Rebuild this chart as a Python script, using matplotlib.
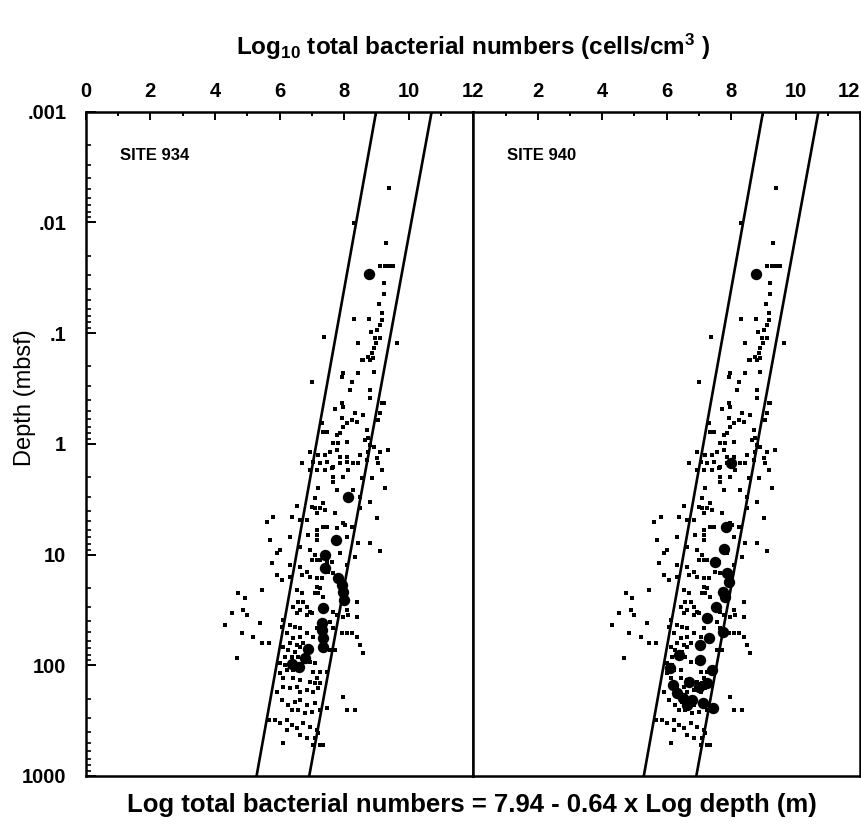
import numpy as np
import matplotlib
matplotlib.use('Agg')
import matplotlib.pyplot as plt
from matplotlib.ticker import FixedLocator, LogLocator, NullFormatter

plt.rcParams['font.family'] = ['Liberation Sans Narrow', 'Liberation Sans', 'DejaVu Sans']
plt.rcParams['font.weight'] = 'bold'
plt.rcParams['mathtext.fontset'] = 'custom'
plt.rcParams['mathtext.rm'] = 'Liberation Sans:bold'
plt.rcParams['mathtext.it'] = 'Liberation Sans:bold'

# background data (all sites), log10 cells/cm3 vs log10 depth (m) - same in both panels
bg_cells = [
    9.40, 9.30, 8.31, 9.11, 9.27, 9.40, 9.52, 9.22, 9.22, 9.09, 9.16, 9.16, 9.11, 8.31, 8.77,
    8.83, 9.03, 8.96, 9.11, 8.98, 8.44, 9.63, 7.39, 8.91, 8.85, 8.80, 8.89, 8.54, 8.60, 8.75,
    8.91, 7.98, 7.93, 8.44,
    7.00, 8.24, 8.18, 8.80, 8.80, 9.16, 9.22, 7.93, 7.98, 7.72, 8.34, 8.60, 9.11,
    7.93, 8.24, 8.39, 8.08, 7.98, 7.31, 7.36, 7.46, 7.87, 7.77, 8.70, 8.75, 8.65, 9.06, 7.67,
    7.82, 8.08, 8.80, 8.91,
    6.95, 7.20, 7.41, 7.57, 7.77, 7.87, 8.08, 8.49, 8.75, 9.11, 9.37, 9.01, 6.69, 7.05, 7.26,
    7.46, 7.62, 7.67, 7.87, 8.08, 8.29, 8.44, 8.70, 9.06, 6.95, 7.15, 7.41, 8.13, 9.16, 7.67,
    7.98, 8.55, 8.86,
    7.67, 7.20, 7.77, 8.29, 9.27, 7.10, 8.49, 7.36, 6.53, 7.00, 7.10, 7.26, 7.41, 7.15, 8.49,
    8.80,
    6.38, 5.81, 5.60, 6.64, 6.84, 7.72, 9.01, 7.98, 8.03, 7.36, 7.46, 7.15, 7.77, 6.33, 5.71,
    6.89, 7.15, 7.15, 8.24, 8.44, 8.08, 8.80, 9.11, 6.64,
    6.02, 5.91, 6.95, 7.10, 7.00, 7.15, 7.26, 7.46, 7.62, 7.87, 8.34, 8.08, 5.76, 6.33, 6.64,
    6.84, 6.69, 5.91, 6.07, 6.33, 6.95, 7.15, 7.31, 7.51, 7.67,
    5.45, 4.73, 4.93, 4.88, 7.15, 7.26, 7.20, 7.10, 7.36, 6.53, 6.69, 6.74, 6.58, 6.43, 6.64,
    6.84, 6.95, 8.39, 8.08, 4.52, 4.99, 5.40, 4.31, 4.83, 5.19, 5.45, 5.66, 6.53, 6.84, 7.00,
    7.67, 7.77, 7.98, 8.13, 8.39,
    6.12, 6.33, 6.48, 6.64, 6.22, 6.43, 6.64, 6.84, 7.05, 7.15, 7.57, 7.67, 7.93, 8.08, 8.24,
    8.39, 8.49, 6.33, 6.53, 6.74, 6.12, 6.27, 6.48, 6.64, 7.57, 7.72, 6.07,
    4.68, 8.60, 6.17, 6.38, 6.58, 6.02, 6.17, 6.22, 6.43, 6.74, 6.95, 7.10, 7.26, 7.05, 7.46,
    7.15, 6.02, 6.12, 6.43, 6.64, 6.95, 7.10, 7.26,
    5.91, 6.12, 6.33, 6.53, 6.64, 6.84, 7.05, 7.20, 6.07, 6.27, 6.48, 6.64, 6.84, 7.10, 6.38,
    6.58, 6.79, 7.00, 7.26, 7.98, 8.08, 8.34, 7.46,
    5.86, 6.02, 6.22, 6.38, 6.53, 6.74, 6.95, 7.15, 6.22, 6.64, 6.84, 7.10, 7.20, 6.12, 7.05,
    7.26, 7.36, 5.66,
]
bg_logdepth = [
    -2.308, -1.817, -1.992, -1.610, -1.610, -1.610, -1.610, -1.450, -1.354, -1.260, -1.185,
    -1.119, -1.074, -1.125, -1.125, -1.007, -1.028, -0.953, -0.953, -0.908, -0.908, -0.908,
    -0.968, -0.863, -0.818, -0.757, -0.773, -0.757, -0.757, -0.788, -0.652, -0.637, -0.607,
    -0.637,
    -0.561, -0.561, -0.486, -0.486, -0.410, -0.365, -0.365, -0.365, -0.335, -0.311, -0.275,
    -0.260, -0.275,
    -0.230, -0.215, -0.200, -0.185, -0.155, -0.185, -0.109, -0.109, -0.094, -0.079, -0.124,
    -0.049, -0.034, -0.215, -0.004, -0.004, -0.019, 0.011, 0.026,
    0.071, 0.101, 0.101, 0.071, 0.056, 0.117, 0.117, 0.101, 0.071, 0.071, 0.056, 0.132, 0.177,
    0.162, 0.177, 0.162, 0.222, 0.207, 0.177, 0.162, 0.177, 0.177, 0.147, 0.177, 0.237, 0.237,
    0.237, 0.237, 0.237, 0.297, 0.297, 0.312, 0.312,
    0.342, 0.403, 0.418, 0.418, 0.403, 0.493, 0.478, 0.538, 0.562, 0.568, 0.583, 0.583, 0.598,
    0.628, 0.583, 0.523,
    0.659, 0.659, 0.704, 0.689, 0.689, 0.628, 0.674, 0.719, 0.734, 0.749, 0.749, 0.779, 0.764,
    0.839, 0.869, 0.824, 0.824, 0.869, 0.749, 0.899, 0.839, 0.899, 0.966, 0.930,
    0.960, 0.990, 0.960, 1.005, 1.050, 1.050, 1.050, 1.065, 1.065, 0.990, 1.020, 1.095, 1.080,
    1.095, 1.110, 1.155, 1.185, 1.185, 1.231, 1.200, 1.200, 1.216, 1.216, 1.155, 1.170,
    1.321, 1.351, 1.396, 1.502, 1.291, 1.306, 1.351, 1.351, 1.381, 1.321, 1.351, 1.426, 1.426,
    1.471, 1.502, 1.471, 1.517, 1.426, 1.502, 1.532, 1.547, 1.622, 1.637, 1.712, 1.742, 1.803,
    1.803, 1.532, 1.547, 1.532, 1.517, 1.547, 1.562, 1.547, 1.562,
    1.592, 1.637, 1.652, 1.667, 1.712, 1.757, 1.742, 1.712, 1.742, 1.667, 1.607, 1.667, 1.712,
    1.712, 1.712, 1.742, 1.818, 1.803, 1.818, 1.803, 1.833, 1.863, 1.878, 1.833, 1.863, 1.863,
    1.652,
    1.938, 1.893, 1.923, 1.923, 1.923, 1.983, 1.998, 2.044, 2.044, 1.968, 1.968, 1.983, 2.059,
    2.059, 2.059, 2.119, 2.074, 2.119, 2.119, 2.134, 2.149, 2.164, 2.164,
    2.239, 2.194, 2.209, 2.194, 2.239, 2.224, 2.239, 2.209, 2.315, 2.360, 2.330, 2.315, 2.360,
    2.345, 2.405, 2.405, 2.435, 2.420, 2.405, 2.284, 2.405, 2.405, 2.390,
    2.495, 2.525, 2.495, 2.540, 2.570, 2.525, 2.555, 2.586, 2.586, 2.631, 2.661, 2.661, 2.616,
    2.706, 2.721, 2.721, 2.721, 2.495,
]

# site 934
s934_cells = [8.77, 8.13, 7.74, 7.41, 7.41, 7.80, 7.93, 7.96, 8.00, 7.36, 7.31, 7.31, 7.34,
              7.36, 6.89, 6.79, 6.61, 6.38]
s934_logdepth = [-1.534, 0.483, 0.869, 1.002, 1.119, 1.215, 1.276, 1.336, 1.411, 1.486,
                 1.622, 1.682, 1.757, 1.833, 1.857, 1.938, 2.014, 1.989]

# site 940
s940_cells = [8.78, 7.99, 7.85, 7.79, 7.51, 7.87, 7.92, 7.76, 7.82, 7.54, 7.25, 7.74, 7.30,
              7.04, 6.37, 7.04, 6.11, 7.40, 6.19, 6.68, 6.99, 7.25, 6.32, 6.52, 6.78, 7.14,
              7.45, 6.63]
s940_logdepth = [-1.534, 0.171, 0.749, 0.948, 1.065, 1.170, 1.246, 1.336, 1.381, 1.472,
                 1.577, 1.697, 1.757, 1.818, 1.908, 1.953, 2.028, 2.043, 2.179, 2.149, 2.194,
                 2.164, 2.254, 2.299, 2.315, 2.344, 2.389, 2.360]

# prediction bounds, values at depth 0.001 and 1000 m
bound_depth = [0.001, 1000]
lower_bound = [8.99, 5.29]
upper_bound = [10.71, 6.92]

ytick_vals = [0.001, 0.01, 0.1, 1, 10, 100, 1000]
ytick_labels = ['.001', '.01', '.1', '1', '10', '100', '1000']

fig = plt.figure(figsize=(8.62, 8.4), dpi=100)
ax1 = fig.add_axes([0.0994, 0.0762, 0.4497, 0.7908])
ax2 = fig.add_axes([0.5491, 0.0762, 0.4486, 0.7908])

panels = [(ax1, s934_cells, s934_logdepth, 'SITE 934'),
          (ax2, s940_cells, s940_logdepth, 'SITE 940')]

for ax, cells, logd, name in panels:
    ax.plot(bg_cells, 10 ** np.array(bg_logdepth), 's', color='black', ms=2.4, mew=0)
    ax.plot(cells, 10 ** np.array(logd), 'o', color='black', ms=8.2, mew=0)
    ax.plot(lower_bound, bound_depth, color='black', lw=1.9)
    ax.plot(upper_bound, bound_depth, color='black', lw=1.9)
    ax.set_yscale('log')
    ax.set_ylim(1000, 0.001)
    ax.set_xlim(0, 12)
    ax.xaxis.tick_top()
    ax.set_xticks([0, 2, 4, 6, 8, 10, 12])
    ax.xaxis.set_minor_locator(FixedLocator([1, 3, 5, 7, 9, 11]))
    ax.tick_params(axis='x', which='major', direction='in', length=6, width=1.4,
                   pad=8, labelsize=14.5)
    ax.tick_params(axis='x', which='minor', direction='in', length=3, width=1.4)
    for s in ax.spines.values():
        s.set_linewidth(1.8)
    ax.text(1.05, 0.0025, name, fontsize=12, fontweight='bold',
            family=['Liberation Sans', 'DejaVu Sans'], va='center')

ax1.set_xticklabels(['0', '2', '4', '6', '8', '10', '12'])
ax2.set_xticklabels(['', '2', '4', '6', '8', '10', '12'])
ax2.get_xticklabels()[-1].set_horizontalalignment('right')

ax1.set_yticks(ytick_vals)
ax1.set_yticklabels(ytick_labels)
ax1.yaxis.set_minor_locator(LogLocator(base=10, subs=np.arange(2, 10), numticks=20))
ax1.yaxis.set_minor_formatter(NullFormatter())
ax1.tick_params(axis='y', which='major', direction='in', length=7, width=1.4,
                pad=14, labelsize=14.5)
ax1.tick_params(axis='y', which='minor', direction='in', length=3.5, width=1.2)
ax1.set_ylabel('Depth (mbsf)', fontsize=17)
ax1.yaxis.set_label_coords(-0.128, 0.57)

ax2.set_yticks([])
ax2.yaxis.set_minor_locator(FixedLocator([]))

fig.text(0.549, 0.944, 'Log$_{10}$ total bacterial numbers (cells/cm$^3$ )',
         ha='center', va='center', fontsize=17.5)
fig.text(0.547, 0.042, 'Log total bacterial numbers = 7.94 - 0.64 x Log depth (m)',
         ha='center', va='center', fontsize=18.5)

fig.savefig('out.png', dpi=100)
